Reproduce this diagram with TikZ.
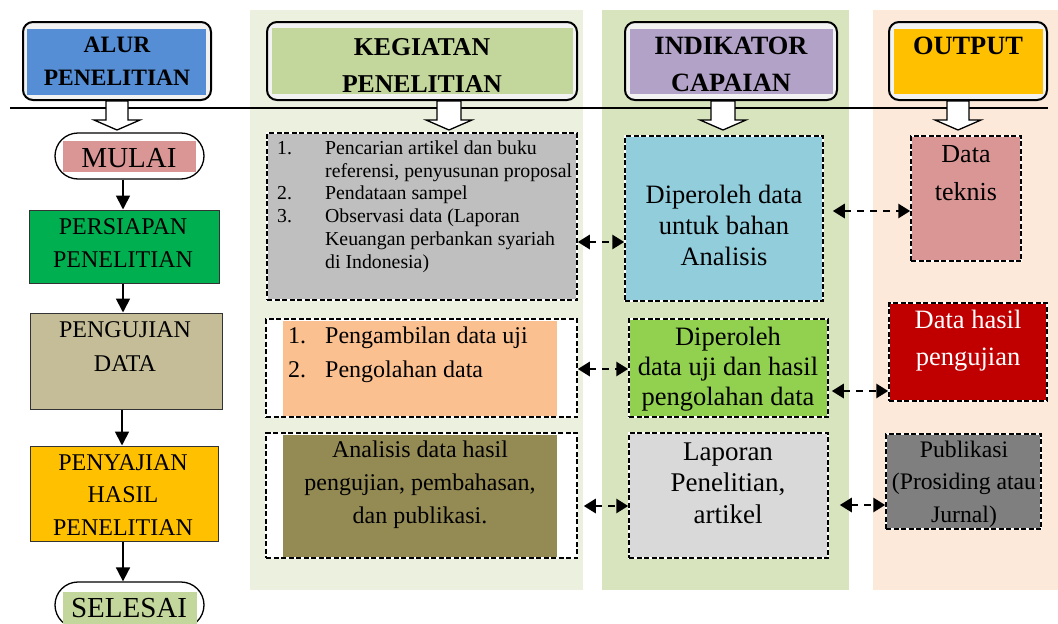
\documentclass[tikz,border=0pt]{standalone}
\usepackage{fontspec}
\setmainfont{Liberation Serif}
\usetikzlibrary{arrows.meta,fit,calc}
\definecolor{colK}{HTML}{EBF1DE}
\definecolor{colI}{HTML}{D7E4BD}
\definecolor{colO}{HTML}{FDE9D9}
\definecolor{hdrgray}{HTML}{F2F2F2}
\definecolor{cBlue}{HTML}{558ED5}
\definecolor{cLgreen}{HTML}{C3D69B}
\definecolor{cPurple}{HTML}{B3A2C7}
\definecolor{cYellow}{HTML}{FFC000}
\definecolor{cPink}{HTML}{D99694}
\definecolor{cGreen}{HTML}{00B050}
\definecolor{cTan}{HTML}{C4BD97}
\definecolor{cGray}{HTML}{BFBFBF}
\definecolor{cOrange}{HTML}{FAC090}
\definecolor{cOlive}{HTML}{948A54}
\definecolor{cBlue2}{HTML}{92CDDC}
\definecolor{cLime}{HTML}{92D050}
\definecolor{cLgray}{HTML}{D9D9D9}
\definecolor{cRed}{HTML}{C00000}
\definecolor{cDgray}{HTML}{7F7F7F}
\newcommand\itemnum[2]{\makebox[#1][l]{#2}}
\begin{document}
\begin{tikzpicture}[x=1pt,y=-1pt,
  colbg/.style={inner sep=0pt, draw=none},
  hdr/.style={inner sep=0pt, draw=black, line width=2pt, fill=hdrgray, rounded corners=10pt},
  hin/.style={inner sep=0pt, draw=none},
  lbox/.style={inner sep=0pt, draw=black!80, line width=1pt},
  stad/.style={inner sep=0pt, draw=black, line width=1.3pt, fill=white, rounded corners=23pt},
  dbox/.style={inner sep=0pt, draw=white, line width=1.5pt,
    postaction={draw=black, dash pattern=on 5pt off 2.5pt, line width=1.5pt}},
  txt/.style={inner sep=0pt, anchor=base, align=center},
  hfont/.style={font=\bfseries\fontsize{#1}{37}\selectfont},
  barrow/.style={draw=black, fill=white, line width=1.3pt, line join=miter},
  sarr/.style={draw=black, line width=1.8pt, -{Triangle[length=14pt,width=14pt]}},
  darr/.style={draw=black, line width=2.8pt, dash pattern=on 7pt off 6pt,
    {Triangle[length=12pt,width=14pt]}-{Triangle[length=12pt,width=14pt]}}
]
\useasboundingbox (0,0) rectangle (1058,624);
\clip (0,0) rectangle (1058,624);
% column backgrounds
\node[colbg, fill=colK, fit={(250,10)(583,590)}] (colk) {};
\node[colbg, fill=colI, fit={(602,10)(849,590)}] (coli) {};
\node[colbg, fill=colO, fit={(873,10)(1058,590)}] (colo) {};
% horizontal rule
\coordinate (hl1) at (10,108);
\coordinate (hl2) at (1048,108);
\draw[line width=1.3pt] (hl1) -- (hl2);
% headers
\node[hdr, fit={(23,22)(211,100)}] (halur) {};
\node[hin, fill=cBlue, fit={(27,29)(206,95)}] (halurin) {};
\node[txt, font=\bfseries\fontsize{23.5}{33}\selectfont] (talur) at (117,85) {ALUR\\PENELITIAN};
\node[hdr, fit={(267,22)(577,100)}] (hkeg) {};
\node[hin, fill=cLgreen, fit={(272,28)(573,94)}] (hkegin) {};
\node[txt, hfont=25.7] (tkeg) at (422,92) {KEGIATAN\\PENELITIAN};
\node[hdr, fit={(625,22)(837,100)}] (hind) {};
\node[hin, fill=cPurple, fit={(630,29)(833,94)}] (hindin) {};
\node[txt, hfont=26.4] (tind) at (731,91) {INDIKATOR\\CAPAIAN};
\node[hdr, fit={(889,22)(1047,100)}] (hout) {};
\node[hin, fill=cYellow, fit={(894,29)(1043,94)}] (houtin) {};
\node[txt, hfont=26.4] (tout) at (968,54) {OUTPUT};
% block arrows
\draw[barrow] (halur.south -| 117,0) ++(-11,0) -- ++(0,19) -- ++(-12,0) -- ++(23,10) -- ++(23,-10) -- ++(-12,0) -- ++(0,-19) -- cycle;
\draw[barrow] (hkeg.south -| 449,0) ++(-12,0) -- ++(0,19) -- ++(-11,0) -- ++(23,10) -- ++(23,-10) -- ++(-11,0) -- ++(0,-19) -- cycle;
\draw[barrow] (hind.south -| 723,0) ++(-12,0) -- ++(0,19) -- ++(-11,0) -- ++(23,10) -- ++(23,-10) -- ++(-11,0) -- ++(0,-19) -- cycle;
\draw[barrow] (hout.south -| 958,0) ++(-11,0) -- ++(0,19) -- ++(-12,0) -- ++(23,10) -- ++(23,-10) -- ++(-12,0) -- ++(0,-19) -- cycle;
% left column
\node[stad, fit={(55,133)(204,179)}] (mulai) {};
\node[hin, fill=cPink, fit={(63,141)(196,172)}] (mulaiin) {};
\node[txt, font=\fontsize{29}{33}\selectfont] (tmulai) at (129,167) {MULAI};
\node[lbox, fill=cGreen, fit={(29,210)(219,283)}] (persiapan) {};
\node[txt, font=\fontsize{24}{33}\selectfont] (tpersiapan) at (123,267) {PERSIAPAN\\PENELITIAN};
\node[lbox, fill=cTan, fit={(30,313)(222,409)}] (pengujian) {};
\node[txt, font=\fontsize{24}{34}\selectfont] (tpengujian) at (125,371) {PENGUJIAN\\DATA};
\node[lbox, fill=cYellow, fit={(30,446)(218,541)}] (penyajian) {};
\node[txt, font=\fontsize{24}{32.5}\selectfont] (tpenyajian) at (123,535) {PENYAJIAN\\HASIL\\PENELITIAN};
\node[stad, fit={(55,582)(204,628)}] (selesai) {};
\node[hin, fill=cLgreen, fit={(63,592)(197,626)}] (selesaiin) {};
\node[txt, font=\fontsize{29}{33}\selectfont] (tselesai) at (129,617) {SELESAI};
\draw[sarr] (mulai.south -| 123,0) -- (persiapan.north -| 123,0);
\draw[sarr] (persiapan.south -| 123,0) -- (pengujian.north -| 123,0);
\draw[sarr] (pengujian.south -| 122,0) -- (penyajian.north -| 122,0);
\draw[sarr] (penyajian.south -| 123,0) -- (selesai.north -| 123,0);
% kegiatan column
\node[dbox, fill=cGray, fit={(267,133)(577,300)}] (k1) {};
\node[inner sep=0pt, anchor=base west, align=left, font=\fontsize{19.8}{22.7}\selectfont] (tk1) at (277,268)
 {\itemnum{48pt}{1.}Pencarian artikel dan buku\\\hspace*{48pt}referensi, penyusunan proposal\\\itemnum{48pt}{2.}Pendataan sampel\\\itemnum{48pt}{3.}Observasi data (Laporan\\\hspace*{48pt}Keuangan perbankan syariah\\\hspace*{48pt}di Indonesia)};
\node[dbox, fill=white, fit={(266,319)(577,417)}] (k2) {};
\node[hin, fill=cOrange, fit={(283,321)(557,416)}] (k2in) {};
\node[inner sep=0pt, anchor=base west, align=left, font=\fontsize{24}{34}\selectfont] (tk2) at (288,377)
 {\itemnum{37pt}{1.}Pengambilan data uji\\\itemnum{37pt}{2.}Pengolahan data};
\node[dbox, fill=white, fit={(266,433)(577,558)}] (k3) {};
\node[hin, fill=cOlive, fit={(283,435)(557,557)}] (k3in) {};
\node[txt, font=\fontsize{24}{33}\selectfont] (tk3) at (420,523) {Analisis data hasil\\pengujian, pembahasan,\\dan publikasi.};
% indikator column
\node[dbox, fill=cBlue2, fit={(625,136)(823,301)}] (i1) {};
\node[txt, font=\fontsize{26.5}{31}\selectfont] (ti1) at (724,265) {Diperoleh data\\untuk bahan\\Analisis};
\node[dbox, fill=cLime, fit={(629,319)(828,417)}] (i2) {};
\node[txt, font=\fontsize{26.5}{30}\selectfont] (ti2) at (728,405) {Diperoleh\\data uji dan hasil\\pengolahan data};
\node[dbox, fill=cLgray, fit={(629,433)(828,558)}] (i3) {};
\node[txt, font=\fontsize{27}{31.5}\selectfont] (ti3) at (728,523) {Laporan\\Penelitian,\\artikel};
% output column
\node[dbox, fill=cPink, fit={(911,136)(1021,261)}] (o1) {};
\node[txt, font=\fontsize{26}{38}\selectfont] (to1) at (966,200) {Data\\teknis};
\node[dbox, fill=cRed, fit={(889,303)(1047,401)}] (o2) {};
\node[txt, text=white, font=\fontsize{26.5}{37}\selectfont] (to2) at (968,365) {Data hasil\\pengujian};
\node[dbox, fill=cDgray, fit={(886,434)(1041,529)}] (o3) {};
\node[txt, font=\fontsize{23.7}{32.5}\selectfont] (to3) at (964,522) {Publikasi\\(Prosiding atau\\Jurnal)};
% dashed double arrows
\draw[darr] (k1.east |- 0,242) -- (i1.west |- 0,242);
\draw[darr, shorten <=9pt] (i1.east |- 0,211) -- (o1.west |- 0,211);
\draw[darr] (k2.east |- 0,369) -- (i2.west |- 0,369);
\draw[darr, shorten <=3pt] (i2.east |- 0,391) -- (o2.west |- 0,391);
\draw[darr, shorten <=6pt] (k3.east |- 0,506) -- (i3.west |- 0,506);
\draw[darr, shorten <=11pt] (i3.east |- 0,505) -- (o3.west |- 0,505);
\end{tikzpicture}
\end{document}
